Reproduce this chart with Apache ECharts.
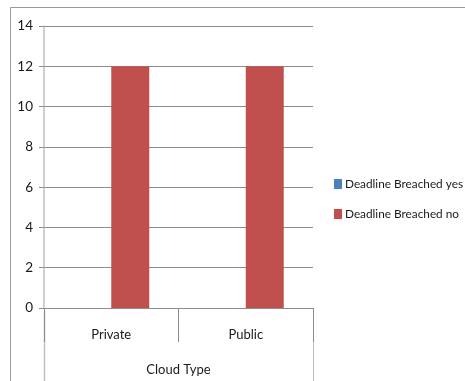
<!DOCTYPE html>
<html><head><meta charset="utf-8">
<script src="https://cdn.jsdelivr.net/npm/echarts@6/dist/echarts.min.js"></script>
<style>html,body{margin:0;padding:0;background:#fff}#c{width:465px;height:381px}</style>
</head><body><div id="c"></div>
<script>
var categories = ['Private', 'Public'];
var seriesNames = ['Deadline Breached yes', 'Deadline Breached no'];
var breachedYes = [0, 0];
var breachedNo = [12, 12];
var yTicks = [0, 2, 4, 6, 8, 10, 12, 14];
var axisTitle = 'Cloud Type';

var FONT = 'Lato, "Liberation Sans", sans-serif';
var chart = echarts.init(document.getElementById('c'), null, {renderer: 'canvas'});
chart.setOption({
  animation: false,
  textStyle: {fontFamily: FONT},
  grid: {left: 44, right: 152, top: 26, bottom: 70, containLabel: false},
  legend: {
    orient: 'vertical', left: 334, top: 178, padding: 0,
    itemWidth: 8, itemHeight: 10, itemGap: 18,
    icon: 'rect',
    textStyle: {fontFamily: FONT, fontSize: 11.8, color: '#1a1a1a', padding: [0, 0, 0, -2], width: 130, overflow: 'none'},
    data: seriesNames
  },
  xAxis: {
    type: 'category', data: categories,
    name: axisTitle, nameLocation: 'middle', nameGap: 55,
    nameTextStyle: {fontFamily: FONT, fontSize: 13, color: '#1a1a1a'},
    axisLine: {show: true, lineStyle: {color: '#8c8c8c', width: 1}},
    axisTick: {show: true, length: 34, lineStyle: {color: '#8c8c8c'}},
    axisLabel: {fontFamily: FONT, fontSize: 13, color: '#1a1a1a', margin: 20}
  },
  yAxis: {
    type: 'value', min: yTicks[0], max: yTicks[yTicks.length - 1], interval: 2,
    axisLine: {show: true, lineStyle: {color: '#c0c0c0', width: 1.5}},
    axisTick: {show: true, length: 5, lineStyle: {color: '#8c8c8c'}},
    splitLine: {show: true, lineStyle: {color: '#8c8c8c', width: 1}},
    axisLabel: {fontFamily: FONT, fontSize: 13.5, color: '#1a1a1a', margin: 11}
  },
  series: [
    {name: seriesNames[0], type: 'bar', data: breachedYes, barWidth: 38, barGap: '0%',
     itemStyle: {color: '#4F81BD'}},
    {name: seriesNames[1], type: 'bar', data: breachedNo, barWidth: 38, barGap: '0%',
     itemStyle: {color: '#C0504D'}}
  ],
  graphic: [
    {type: 'line', shape: {x1: 10.5, y1: 7.5, x2: 465, y2: 7.5}, style: {stroke: '#9a9a9a', lineWidth: 1}},
    {type: 'line', shape: {x1: 10.5, y1: 7.5, x2: 10.5, y2: 381}, style: {stroke: '#9a9a9a', lineWidth: 1}},
    {type: 'line', shape: {x1: 44.5, y1: 311, x2: 44.5, y2: 381}, style: {stroke: '#c0c0c0', lineWidth: 1.5}},
    {type: 'line', shape: {x1: 313.5, y1: 311, x2: 313.5, y2: 381}, style: {stroke: '#c0c0c0', lineWidth: 1}}
  ]
});
</script></body></html>
